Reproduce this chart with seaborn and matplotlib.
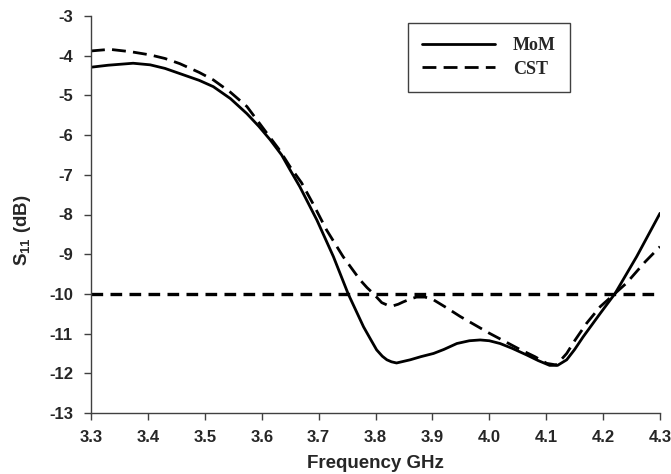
import matplotlib
matplotlib.use("Agg")
import matplotlib.pyplot as plt
import seaborn as sns
import pandas as pd

mom_freq = [3.300, 3.330, 3.374, 3.404, 3.430, 3.456, 3.490, 3.515, 3.545, 3.574,
            3.595, 3.615, 3.635, 3.650, 3.667, 3.697, 3.726, 3.752, 3.779, 3.792,
            3.802, 3.812, 3.820, 3.828, 3.837, 3.861, 3.880, 3.902, 3.920,
            3.943, 3.965, 3.984, 4.000, 4.019, 4.040, 4.066, 4.086, 4.106, 4.120,
            4.136, 4.150, 4.165, 4.195, 4.221, 4.259, 4.300]
mom_s11 = [-4.29, -4.24, -4.19, -4.23, -4.32, -4.45, -4.62, -4.78, -5.08, -5.46,
           -5.78, -6.12, -6.50, -6.88, -7.30, -8.14, -9.06, -10.00, -10.83, -11.16,
           -11.41, -11.57, -11.66, -11.71, -11.74, -11.66, -11.58, -11.50, -11.40,
           -11.25, -11.18, -11.16, -11.18, -11.25, -11.37, -11.54, -11.68, -11.80, -11.80,
           -11.66, -11.40, -11.08, -10.49, -9.99, -9.06, -7.97]

cst_freq = [3.300, 3.333, 3.370, 3.404, 3.430, 3.456, 3.490, 3.515, 3.545, 3.574,
            3.609, 3.630, 3.650, 3.670, 3.691, 3.714, 3.743, 3.773, 3.785, 3.796,
            3.811, 3.822, 3.831, 3.840, 3.849, 3.861, 3.872, 3.887, 3.902, 3.925,
            3.949, 4.000, 4.054, 4.080, 4.101, 4.118, 4.136, 4.150, 4.171, 4.195,
            4.220, 4.241, 4.274, 4.300]
cst_s11 = [-3.88, -3.84, -3.90, -3.98, -4.07, -4.20, -4.42, -4.61, -4.92, -5.28,
           -5.95, -6.35, -6.80, -7.20, -7.75, -8.39, -9.06, -9.65, -9.84, -9.99,
           -10.22, -10.29, -10.30, -10.26, -10.20, -10.13, -10.08, -10.08, -10.15, -10.35,
           -10.57, -10.99, -11.40, -11.58, -11.75, -11.79, -11.50, -11.18, -10.74, -10.32,
           -10.00, -9.73, -9.19, -8.81]

ref_freq = [3.3, 4.3]
ref_level = [-10, -10]

x_ticks = [3.3, 3.4, 3.5, 3.6, 3.7, 3.8, 3.9, 4.0, 4.1, 4.2, 4.3]
y_ticks = [-13, -12, -11, -10, -9, -8, -7, -6, -5, -4, -3]

sns.set_style("ticks")
plt.rcParams["font.family"] = ["Liberation Sans", "DejaVu Sans"]
plt.rcParams["mathtext.fontset"] = "custom"
plt.rcParams["mathtext.rm"] = "Liberation Sans:bold"
plt.rcParams["mathtext.bf"] = "Liberation Sans:bold"

fig = plt.figure(figsize=(6.71, 4.74), dpi=100)
ax = fig.add_axes([91/671, 1-413/474, (660-91)/671, (413-16)/474])

df_mom = pd.DataFrame({"f": mom_freq, "s": mom_s11})
df_cst = pd.DataFrame({"f": cst_freq, "s": cst_s11})
df_ref = pd.DataFrame({"f": ref_freq, "s": ref_level})

sns.lineplot(data=df_ref, x="f", y="s", ax=ax, color="black", lw=2.4,
             estimator=None, sort=False)
ax.lines[-1].set_dashes([3.5, 2.2])
sns.lineplot(data=df_mom, x="f", y="s", ax=ax, color="black", lw=2.0,
             estimator=None, sort=False, label="MoM")
sns.lineplot(data=df_cst, x="f", y="s", ax=ax, color="black", lw=2.0,
             estimator=None, sort=False, label="CST")
ax.lines[-1].set_dashes([5, 2.6])
for ln in ax.lines:
    ln.set_solid_joinstyle("round")
    ln.set_dash_joinstyle("round")

ax.set_xlim(3.3, 4.3)
ax.set_ylim(-13, -3)
ax.set_xticks(x_ticks)
ax.set_yticks(y_ticks)
ax.set_xticklabels([f"{v:.1f}" for v in x_ticks])
ax.set_yticklabels([str(v) for v in y_ticks])
for sp in ["top", "right"]:
    ax.spines[sp].set_visible(False)
for sp in ["left", "bottom"]:
    ax.spines[sp].set_color("#404040")
    ax.spines[sp].set_linewidth(1.0)
ax.tick_params(axis="both", direction="out", length=5, width=1.0, color="#404040",
               labelsize=12)
ax.tick_params(axis="x", pad=7)
ax.tick_params(axis="y", pad=8)
for lab in ax.get_xticklabels() + ax.get_yticklabels():
    lab.set_fontweight("bold")

ax.set_xlabel("Frequency GHz", fontsize=13.5, fontweight="bold")
ax.set_ylabel(r"S$_{11}$ (dB)", fontsize=13.5, fontweight="bold")
ax.xaxis.set_label_coords(0.5, -0.105, transform=ax.transAxes)
ax.xaxis.label.set_verticalalignment("top")
ax.yaxis.set_label_coords(-0.102, 0.46, transform=ax.transAxes)

leg = ax.legend(loc="upper left", bbox_to_anchor=(408/671, 1-23/474),
                bbox_transform=fig.transFigure, frameon=True, fancybox=False,
                borderaxespad=0, handlelength=4.0, handletextpad=1.0,
                borderpad=0.8, labelspacing=0.35,
                prop={"family": "Liberation Serif", "weight": "bold", "size": 13})
leg.get_frame().set_edgecolor("#404040")
leg.get_frame().set_linewidth(1.0)
leg.get_frame().set_alpha(1)

fig.savefig("out.png", dpi=100)
